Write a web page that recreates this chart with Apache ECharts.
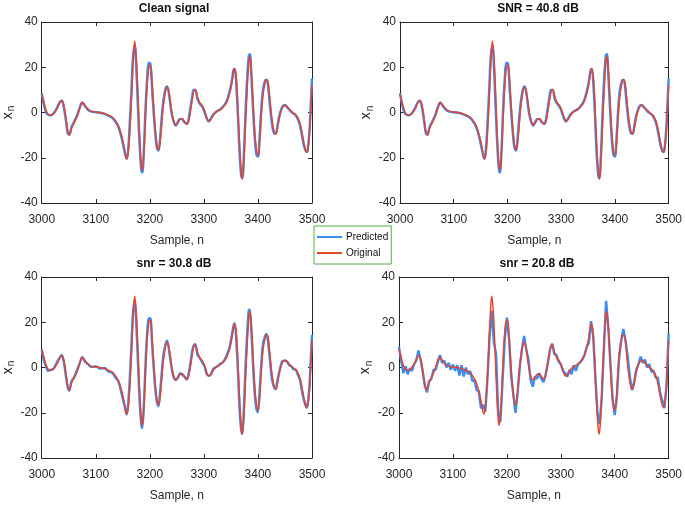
<!DOCTYPE html>
<html>
<head>
<meta charset="utf-8">
<script src="https://cdn.jsdelivr.net/npm/echarts@6/dist/echarts.min.js"></script>
<style>
html,body{margin:0;padding:0;background:#fff;}
#chart{width:685px;height:507px;}
</style>
</head>
<body>
<div id="chart"></div>
<script>
/********
 *  Predicted vs original signal, four noise levels
 */
var titles=["Clean signal","SNR = 40.8 dB","snr = 30.8 dB","snr = 20.8 dB"];
var xTicks=[3000,3100,3200,3300,3400,3500];
var yTicks=[-40,-20,0,20,40];

// original signal (red), read at key samples
var origN=[3000,3004,3008,3012,3017,3022,3028,3033,3037,3041,
	3045,3048,3051,3055,3060,3065,3070,3075,3080,3086,
	3092,3100,3108,3116,3124,3130,3136,3142,3148,3153,
	3157,3160,3163,3166,3169,3172,3175,3178,3181,3184,
	3186,3189,3192,3195,3198,3201,3204,3207,3210,3213,
	3216,3219,3222,3225,3229,3232,3236,3240,3244,3248,
	3252,3256,3260,3264,3268,3271,3274,3278,3281,3284,
	3288,3292,3297,3301,3305,3309,3313,3318,3324,3330,
	3336,3342,3347,3351,3355,3357,3360,3363,3366,3369,
	3371,3374,3377,3380,3383,3385,3388,3391,3394,3397,
	3400,3403,3406,3409,3413,3416,3419,3422,3426,3430,
	3433,3436,3440,3445,3450,3454,3458,3462,3466,3470,
	3474,3478,3482,3486,3490,3492,3495,3497,3500];
var origV=[8,4.5,1,-0.8,-1.2,-0.5,1.5,4,5.3,3,
	-3,-8,-10,-7,-4.5,-2,1.5,4.5,3.2,1.3,
	0.5,0.2,0,-0.5,-1.3,-2,-3.5,-6,-10.5,-16,
	-20.5,-18,-8,6,22,31.5,24,8,-10,-23,
	-25.5,-18,-2,12,20,21,14,3,-7,-14,
	-16.5,-13,-5,3,9.5,11.3,8,1,-3.5,-5.5,
	-4.5,-3,-2.8,-4,-5,-4.5,-1,5,9,10.2,
	7,4.5,3,1,-2,-3.8,-3,-1,0.5,1.2,
	2.5,4.5,8,12,18,19.5,15,2,-14,-26,
	-29.5,-22,-5,10,22,24.8,18,5,-8,-16,
	-19,-14,-2,7,13,14.5,13,6,-3,-8.5,
	-9.5,-7,-2,2,3.2,2.5,1.5,0.5,-0.3,-1,
	-2.5,-5,-9.5,-14.5,-17.5,-17,-11,-3,12];

// predicted (blue), clean and 40.8 dB input
var predV=[8.5,3.5,0,-1,-1.2,-0.3,2,4.5,5.2,2,
	-4,-9,-9.8,-6.5,-4,-1.5,2,4.3,2.8,1.1,
	0.4,0.1,-0.1,-0.6,-1.5,-2.3,-4,-6.5,-11.5,-17,
	-20.5,-16,-4,10,25,29.5,19,2,-14,-25,
	-26.5,-16,2,15,22,21.5,11,0,-9,-15.5,
	-16.8,-11,-2,5,10.5,11.5,7,0,-4,-5.8,
	-4,-2.8,-3,-4.3,-5,-3.8,0.5,6.5,10,10,
	6,4,2.5,0.3,-2.5,-4,-2.6,-0.7,0.6,1.3,
	2.8,5,8.8,13,19,19.3,12,-2,-18,-28,
	-29,-18,0,15,25,25.8,15,1,-11,-18.5,
	-19.5,-11,1,9.5,14,14.5,11,3.5,-5,-9.2,
	-9.3,-6,-1,2.5,3.3,2.3,1.2,0.2,-0.5,-1.3,
	-3,-6,-11,-15.5,-17.5,-16.5,-9,0,15];

// predicted (blue), 30.8 dB input
var pred30V=[8,3,0.5,-1.5,-1,-0.5,2.3,4.2,5.5,2.3,
	-4.3,-8.7,-10.2,-6,-4.3,-1.2,1.7,4.6,2.5,1.4,
	0.2,0.6,-0.5,-0.2,-1.9,-2.2,-4.3,-6.2,-11.8,-16.7,
	-20.8,-15.6,-4.4,10.3,24.6,29.8,18.6,2.4,-14.3,-24.7,
	-26.8,-15.7,1.6,15.3,21.7,21.8,10.6,0.4,-9.3,-15.2,
	-17.1,-10.7,-2.4,5.3,10.2,11.8,6.7,0.3,-4.3,-5.5,
	-4.3,-2.5,-3.3,-4,-5.3,-3.5,0.2,6.8,9.7,10.3,
	5.7,4.3,2.2,0.6,-2.8,-3.7,-2.9,-0.4,0.3,1.6,
	2.5,5.3,8.5,13.3,18.7,19.6,11.7,-1.7,-18.3,-27.7,
	-29.3,-17.7,0.3,14.7,25.3,25.5,15.3,0.7,-11.3,-18.2,
	-19.8,-10.7,0.7,9.8,13.7,14.8,10.7,3.8,-5.3,-8.9,
	-9.6,-5.7,-1.3,2.8,3,2.6,0.9,0.5,-0.8,-1,
	-3.3,-5.7,-11.3,-15.2,-17.8,-16.2,-9.3,0.3,14.5];

// predicted (blue), 20.8 dB input, every 4th sample
var noisyN=[3000,3004,3008,3012,3016,3020,3024,3028,3032,3036,
	3040,3044,3048,3052,3056,3060,3064,3068,3072,3076,
	3080,3084,3088,3092,3096,3100,3104,3108,3112,3116,
	3120,3124,3128,3132,3136,3140,3144,3148,3152,3156,
	3160,3164,3168,3172,3176,3180,3184,3188,3192,3196,
	3200,3204,3208,3212,3216,3220,3224,3228,3232,3236,
	3240,3244,3248,3252,3256,3260,3264,3268,3272,3276,
	3280,3284,3288,3292,3296,3300,3304,3308,3312,3316,
	3320,3324,3328,3332,3336,3340,3344,3348,3352,3356,
	3360,3364,3368,3372,3376,3380,3384,3388,3392,3396,
	3400,3404,3408,3412,3416,3420,3424,3428,3432,3436,
	3440,3444,3448,3452,3456,3460,3464,3468,3472,3476,
	3480,3484,3488,3492,3496,3500];
var pred20V=[9,3,-2.5,0.5,-3,-0.5,-1.5,1.5,3,7.5,
	3.5,-2,-8,-11,-6,-5,-1,-1,2.5,5.5,
	2,3,0,2,-1,1.3,-1.5,1,-3.5,1,
	-4,0,-3,-1.5,-6,-5.5,-10,-10.5,-18,-16.5,
	-19.5,-5,14,25,11,6,-20,-24,-6,12,
	22,13,-4,-12,-20,-11,0.5,8,14,8,
	3.5,-5.5,-8.5,-4,-5,-2.5,-5,-6.5,-3,2,
	8,10.5,6,5.5,2.5,1.5,-1.5,-2.5,-4,-1,
	-3,1,-1.5,1.5,2.3,3.5,5.5,9,11,20.5,
	14,-4,-20,-25,-13,9,29.5,18,2,-14,
	-21,-13,4,12,17,12,5,-4,-10,-6.5,
	-1,1.5,4.8,2,3.5,0,1.5,-2,-1.5,-4.5,
	-4.5,-11,-14.5,-18,-8,15];

var font='"Liberation Sans",Arial,sans-serif';
var axisColor="#262626";
var blue="#3b8cf0";
var red="#e8432b";
var gridLeft=[36,400,36,399];
var gridTop=[22,22,277,277];
var gridW=276, gridH=181;

/****
 * 两个数组合成 [x,y]
 */
function zip(n,v){
	var out=[];
	for(var i=0;i<n.length;i++){
		out.push([n[i],v[i]]);
	}
	return out;
}

/****
 * 底部/顶部 x 轴
 */
function makeX(i,top){
	return {
		type:"value",gridIndex:i,position:top?"top":"bottom",
		min:xTicks[0],max:xTicks[xTicks.length-1],interval:xTicks[1]-xTicks[0],
		name:top?"":"Sample, n",nameLocation:"middle",nameGap:32,
		nameTextStyle:{fontFamily:font,fontSize:12,color:axisColor},
		axisLine:{show:true,onZero:false,lineStyle:{color:axisColor,width:1}},
		axisTick:{show:true,inside:true,length:4,lineStyle:{color:axisColor}},
		axisLabel:{show:!top,margin:11,fontFamily:font,fontSize:12,color:axisColor,
			formatter:function(v){return String(v);}},
		splitLine:{show:false}
	};
}

/****
 * 左/右 y 轴
 */
function makeY(i,right){
	return {
		type:"value",gridIndex:i,position:right?"right":"left",
		min:yTicks[0],max:yTicks[yTicks.length-1],interval:yTicks[1]-yTicks[0],
		name:right?"":"{x|x}{n|n}",nameLocation:"middle",nameGap:22,nameRotate:90,
		nameTextStyle:{fontFamily:font,color:axisColor,
			rich:{x:{fontFamily:font,fontSize:14,color:axisColor},
				n:{fontFamily:font,fontSize:10,color:axisColor,padding:[7,0,0,1]}}},
		axisLine:{show:true,onZero:false,lineStyle:{color:axisColor,width:1}},
		axisTick:{show:true,inside:true,length:4,lineStyle:{color:axisColor}},
		axisLabel:{show:!right,margin:4,fontFamily:font,fontSize:12,color:axisColor},
		splitLine:{show:false}
	};
}

function lineSeries(name,i,data,color,width,smooth,z){
	return {
		name:name,type:"line",xAxisIndex:2*i,yAxisIndex:2*i,
		data:data,symbol:"none",smooth:smooth,z:z,
		lineStyle:{color:color,width:width},itemStyle:{color:color},
		animation:false
	};
}

var predData=[zip(origN,predV),zip(origN,predV),zip(origN,pred30V),zip(noisyN,pred20V)];
var predSmooth=[0.4,0.4,0.3,false];

var grids=[],xAxes=[],yAxes=[],series=[],graphics=[];
for(var i=0;i<4;i++){
	grids.push({left:gridLeft[i],top:gridTop[i],width:gridW,height:gridH,containLabel:false});
	xAxes.push(makeX(i,false));
	xAxes.push(makeX(i,true));
	yAxes.push(makeY(i,false));
	yAxes.push(makeY(i,true));
	series.push(lineSeries("Predicted",i,predData[i],blue,2.4,predSmooth[i],2));
	series.push(lineSeries("Original",i,zip(origN,origV),red,1.5,0.4,3));
	graphics.push({
		type:"text",
		x:gridLeft[i]+gridW/2,
		y:gridTop[i]-13,
		style:{text:titles[i],fill:"#111",font:"bold 12px "+font,
			textAlign:"center",textVerticalAlign:"middle"}
	});
}

var chart=echarts.init(document.getElementById("chart"),null,{renderer:"canvas"});
chart.setOption({
	backgroundColor:"#fff",
	animation:false,
	grid:grids,
	xAxis:xAxes,
	yAxis:yAxes,
	series:series,
	graphic:graphics,
	legend:{
		orient:"vertical",left:314,top:226,
		padding:[6,3,6,3],itemGap:6,itemWidth:25,itemHeight:2,
		backgroundColor:"#fff",borderColor:"#4cb040",borderWidth:1,borderRadius:0,
		textStyle:{fontFamily:font,fontSize:10,color:"#111",padding:[0,0,0,-1]},
		data:[{name:"Predicted",icon:"rect"},{name:"Original",icon:"rect"}]
	}
});
</script>
</body>
</html>
